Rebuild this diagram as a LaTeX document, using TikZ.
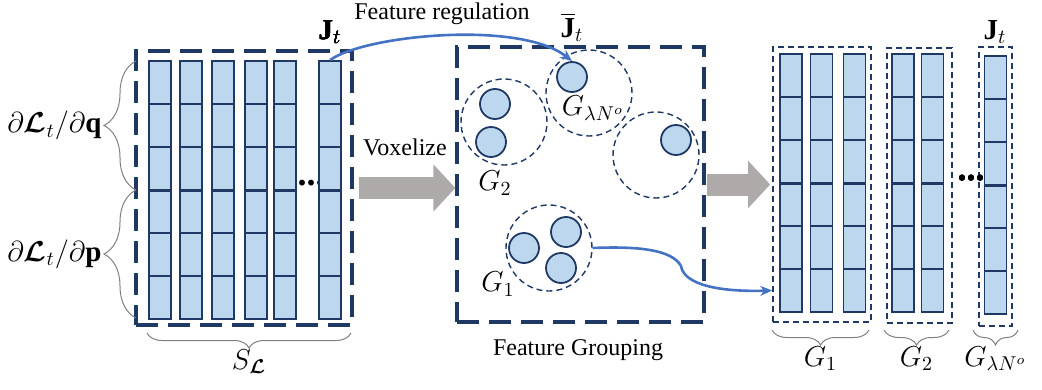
\documentclass[tikz,border=0pt]{standalone}
\usepackage{fontspec}
\setmainfont{Liberation Serif}
\usepackage{amsmath,bm}
\usetikzlibrary{arrows.meta,decorations.pathreplacing,positioning}

\definecolor{cellblue}{RGB}{189,215,238}
\definecolor{navy}{RGB}{31,56,100}
\definecolor{linkblue}{RGB}{68,114,196}
\definecolor{fatgrey}{RGB}{174,170,170}

% one feature column: six cells, thicker line in the middle
\newcommand{\featcol}[3]{%
  \foreach \k in {1,...,6}
    \node[cell] (#3-\k) at (#1,{#2+21.5+43*(\k-1)}) {};
  \draw[navy, line width=1.4pt] (#3-3.south west) -- (#3-3.south east);
}

\begin{document}
\begin{tikzpicture}
   [
    x=0.5pt, y=-0.5pt,
    cell/.style={rectangle, draw=navy, fill=cellblue, line width=0.9pt,
                 minimum width=11pt, minimum height=21.5pt, inner sep=0pt},
    dot/.style={circle, draw=navy, fill=cellblue, line width=0.9pt,
                minimum size=15pt, inner sep=0pt},
    grp/.style={circle, draw=navy, line width=0.7pt, dash pattern=on 3pt off 2pt,
                minimum size=43pt, inner sep=0pt},
    bigbox/.style={rectangle, draw=navy, line width=1.6pt,
                   dash pattern=on 11pt off 5pt, inner sep=0pt},
    smallbox/.style={rectangle, draw=navy, line width=0.8pt,
                     dash pattern=on 3pt off 2pt, inner sep=0pt},
    link/.style={draw=linkblue, line width=1.3pt, -{Stealth[length=6pt,width=5pt]}},
    fat/.style={draw=fatgrey, line width=11pt, -{Triangle[length=11pt,width=23pt]}},
    curly/.style={draw=gray, line width=0.5pt, decorate,
                  decoration={brace, amplitude=#1}},
    curly/.default=7.5pt,
    more/.style={font=\fontsize{18}{18}\bfseries\selectfont, inner sep=0pt},
    txt/.style={font=\fontsize{12}{14}\selectfont},
    lbl/.style={font=\fontsize{14.5}{16}\selectfont, inner sep=0pt}
    ]
\useasboundingbox (0,0) rectangle (1042,390);

% input block S_L
\node[bigbox, minimum width=108pt, minimum height=137pt] (slbox) at (244,188) {};
\node[more] (ldots) at (311,183) {...};
\foreach \cx/\nm in {160/sa,191/sb,223/sc,256/sd,285/se,330/sf}
  \featcol{\cx}{61}{\nm}
\node[lbl] (jtl) at (330,32) {$\mathbf{J}_t$};

% braces on the input
\draw[curly=16pt] (136,190) -- (136,61)
    node[midway, left=17pt, lbl] (dq) {$\partial\bm{\mathcal{L}}_t/\partial\mathbf{q}$};
\draw[curly=16pt] (136,318) -- (136,190)
    node[midway, left=17pt, lbl] (dp) {$\partial\bm{\mathcal{L}}_t/\partial\mathbf{p}$};
\draw[curly] (351,333) -- (147,333)
    node[midway, below=8pt, lbl] (sl) {$S_{\bm{\mathcal{L}}}$};

% grouping block
\node[bigbox, minimum width=123.5pt, minimum height=137.5pt] (midbox) at (580.5,184.5) {};
\node[grp] (gg2) at (504,122) {};
\node[grp] (ggl) at (589,93) {};
\node[grp] (ggx) at (656,155) {};
\node[grp] (gg1) at (549,248) {};
\node[dot] (gla) at (572,77) {};
\node[dot] (g2a) at (495,104) {};
\node[dot] (g2b) at (491,142) {};
\node[dot] (gxa) at (676,140) {};
\node[dot] (g1a) at (524,248) {};
\node[dot] (g1b) at (566,232) {};
\node[dot] (g1c) at (561,268) {};
\node[lbl] (lg2) at (495,183) {$G_2$};
\node[lbl] (lg1) at (498,284) {$G_1$};
\node[lbl] (lgl) at (593,108) {$G_{\lambda N^o}$};
\node[lbl] (jbar) at (572,27) {$\overline{\mathbf{J}}_t$};
\node[txt] (freg) at (442,14) {Feature regulation};
\node[txt] (vox) at (405,147) {Voxelize};
\node[txt] (fgrp) at (578,350) {Feature Grouping};

% grouped output
\node[smallbox, minimum width=49pt, minimum height=137.5pt] (g1box) at (822,184.5) {};
\node[smallbox, minimum width=32.5pt, minimum height=137.5pt] (g2box) at (919.5,185.5) {};
\node[smallbox, minimum width=16.5pt, minimum height=139.5pt] (glbox) at (995.5,186.5) {};
\foreach \cx/\nm in {791/ra,821.5/rb,854.5/rc,903/rd,932.5/re}
  \featcol{\cx}{54}{\nm}
\featcol{995.5}{56}{rf}
\node[more] (rdots) at (971,178) {...};
\node[lbl] (jtr) at (995,32) {$\mathbf{J}_t$};
\draw[curly] (869,330) -- (772,330) node[midway, below=8pt, lbl] (rg1) {$G_1$};
\draw[curly] (949,330) -- (884,330) node[midway, below=8pt, lbl] (rg2) {$G_2$};
\draw[curly] (1018,330) -- (973,330) node[midway, below=8pt, lbl] (rgl) {$G_{\lambda N^o}$};

% arrows
\draw[fat] ([xshift=2.5pt]slbox.east) -- (slbox.east -| midbox.west);
\draw[fat] ([xshift=0.5pt]midbox.east) -- ([xshift=-1pt]midbox.east -| g1box.west);
\draw[link] (sf-1.north) .. controls (365,35) and (520,20) .. (gla.north);
\draw[link] (gg1.east) .. controls (640,246) and (672,250) .. (681,266)
    .. controls (684,285) and (720,292) .. (g1box.west |- ra-6);

\end{tikzpicture}
\end{document}
